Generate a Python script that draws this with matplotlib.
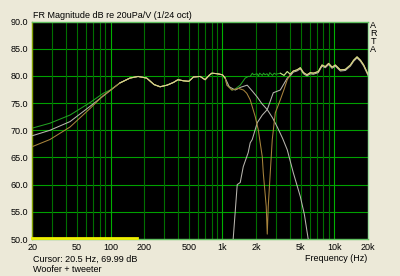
import numpy as np
import matplotlib
matplotlib.use("Agg")
import matplotlib.pyplot as plt

plt.rcParams['font.family'] = ['Liberation Sans', 'DejaVu Sans']

# ---- data ----
low_f = [20, 28.7, 43.4, 65.5, 86, 99]
green_low = [70.4, 71.3, 72.8, 75.1, 76.8, 77.4]
woofer_low = [69.0, 70.0, 71.6, 74.4, 76.3, 77.3]
tan_low = [67.0, 68.3, 70.6, 74.0, 76.4, 77.3]

mid_f = [121, 149, 176, 210, 245, 277, 320, 365, 400, 448, 500, 551, 632, 700, 760, 804, 900, 1000, 1057]
mid_db = [78.7, 79.6, 79.9, 79.6, 78.4, 78.0, 78.3, 78.8, 79.3, 79.1, 79.0, 79.8, 79.9, 79.3, 80.1, 80.5, 80.4, 80.2, 79.6]

high_f = [3288, 3550, 3796, 4038, 4300, 4636, 4966, 5300, 5700, 6100, 6490, 7190, 7760,
          8310, 8900, 9540, 10210, 11320, 12560, 13930, 14900, 15960, 17100, 18300, 20000]
high_db = [80.5, 80.1, 80.8, 80.3, 80.9, 81.1, 81.5, 80.6, 80.2, 80.6, 80.5, 80.8, 82.0,
           81.7, 82.3, 81.6, 82.0, 81.1, 81.2, 82.0, 82.9, 83.5, 82.9, 82.0, 80.3]

green_xo_f = [1097, 1214, 1300, 1442, 1598, 1700, 1770, 1850, 1900, 2035, 2100, 2150, 2270,
              2330, 2400, 2500, 2580, 2650, 2800, 2900, 3000]
green_xo_db = [78.3, 77.4, 77.6, 78.3, 79.6, 79.9, 79.9, 80.5, 80.2, 80.4, 80.0, 80.5, 80.1,
               80.5, 80.2, 80.4, 80.0, 80.6, 80.1, 80.5, 80.3]

woofer_xo_f = [1150, 1300, 1450, 1664, 1850, 2047, 2250, 2514, 2800, 3090, 3450, 3796, 4296, 4966, 5400, 5850, 6100]
woofer_xo_db = [78.0, 77.4, 77.9, 78.3, 77.2, 76.1, 74.9, 73.8, 72.3, 70.6, 68.5, 66.4, 62.2, 57.8, 54.5, 49.9, 47.0]

tweeter_f = [1200, 1248, 1355, 1442, 1534, 1699, 1770, 1846, 2047, 2270, 2514, 2846, 3288, 3796, 4038]
tweeter_db = [44.0, 50.1, 60.0, 60.4, 63.3, 65.9, 67.7, 68.3, 71.4, 72.8, 73.8, 76.9, 77.4, 79.6, 80.0]

tan_xo_f = [1097, 1214, 1393, 1543, 1650, 1770, 1964, 2090, 2270, 2316, 2462, 2514, 2566,
            2675, 2788, 2966, 3288, 3550, 3796]
tan_xo_db = [78.3, 77.4, 77.7, 77.4, 76.8, 75.6, 72.5, 70.1, 65.1, 62.2, 56.0, 50.9, 56.0,
             62.2, 68.3, 73.2, 75.6, 77.5, 79.3]

range_f = [20, 171]
range_db = [50.2, 50.2]

xticks = [20, 50, 100, 200, 500, 1000, 2000, 5000, 10000, 20000]
xtick_labels = ['20', '50', '100', '200', '500', '1k', '2k', '5k', '10k', '20k']
yticks = [50, 55, 60, 65, 70, 75, 80, 85, 90]

# assemble curves
green_f = low_f + mid_f + green_xo_f + high_f
green_db = green_low + mid_db + green_xo_db + high_db
woofer_f = low_f + mid_f + woofer_xo_f
woofer_db = woofer_low + mid_db + woofer_xo_db
tw_f = tweeter_f + high_f[4:]
tw_db = tweeter_db + [v - 0.2 for v in high_db[4:]]
tan_f = low_f + mid_f + tan_xo_f + high_f[3:]
tan_db = tan_low + mid_db + tan_xo_db + high_db[3:]
yel_f = mid_f + [2000] + high_f
yel_db = mid_db + [np.nan] + high_db

bg = '#ece9d8'
fig = plt.figure(figsize=(4.0, 2.76), dpi=100, facecolor=bg)
ax = fig.add_axes([0.081, 0.134, 0.839, 0.788])
ax.set_facecolor('black')
ax.set_xscale('log')
ax.set_xlim(20, 20000)
ax.set_ylim(50, 90)

# grid
for y in yticks[1:-1]:
    ax.axhline(y, color='#00a000', lw=0.8, zorder=1)
minor = [v * d for d in (10, 100, 1000) for v in range(2, 10)] + [30, 40, 50, 60, 70, 80, 90]
for x in sorted(set(minor)):
    if 20 < x < 20000:
        ax.axvline(x, color='#007000', lw=0.8, zorder=1)
for x in [100, 1000, 10000]:
    ax.axvline(x, color='#00b000', lw=0.8, zorder=1)

lw = 0.75
ax.plot(green_f, green_db, color='#22a022', lw=lw, zorder=2)
ax.plot(woofer_f, woofer_db, color='#b8b6ae', lw=lw, zorder=3)
ax.plot(tw_f, tw_db, color='#b8b6ae', lw=lw, zorder=3)
ax.plot(tan_f, tan_db, color='#a8843c', lw=lw, zorder=4)
ax.plot(yel_f, yel_db, color='#ddd890', lw=lw, zorder=5)
ax.plot(range_f, range_db, color='#f0f000', lw=2.0, zorder=6, clip_on=False)

ax.set_xticks(xticks)
ax.set_xticklabels(xtick_labels)
ax.set_yticks(yticks)
ax.set_yticklabels(['%.1f' % v for v in yticks])
ax.xaxis.set_minor_locator(matplotlib.ticker.NullLocator())
ax.tick_params(length=0, labelsize=6.5, pad=3)

for s in ax.spines.values():
    s.set_color('#60c060')
    s.set_linewidth(1.0)
ax.spines['left'].set_color('#80a000')
ax.spines['right'].set_color('#a0e0a0')

fig.text(0.083, 0.944, 'FR Magnitude dB re 20uPa/V (1/24 oct)', fontsize=6.5, va='center')
fig.text(0.083, 0.062, 'Cursor: 20.5 Hz, 69.99 dB', fontsize=6.5, va='center')
fig.text(0.083, 0.022, 'Woofer + tweeter', fontsize=6.5, va='center')
fig.text(0.918, 0.062, 'Frequency (Hz)', fontsize=6.5, va='center', ha='right')
for i, ch in enumerate('ARTA'):
    fig.text(0.933, 0.909 - i * 0.0295, ch, fontsize=6.5, va='center', ha='center')

fig.savefig('out.png', dpi=100, facecolor=bg)
